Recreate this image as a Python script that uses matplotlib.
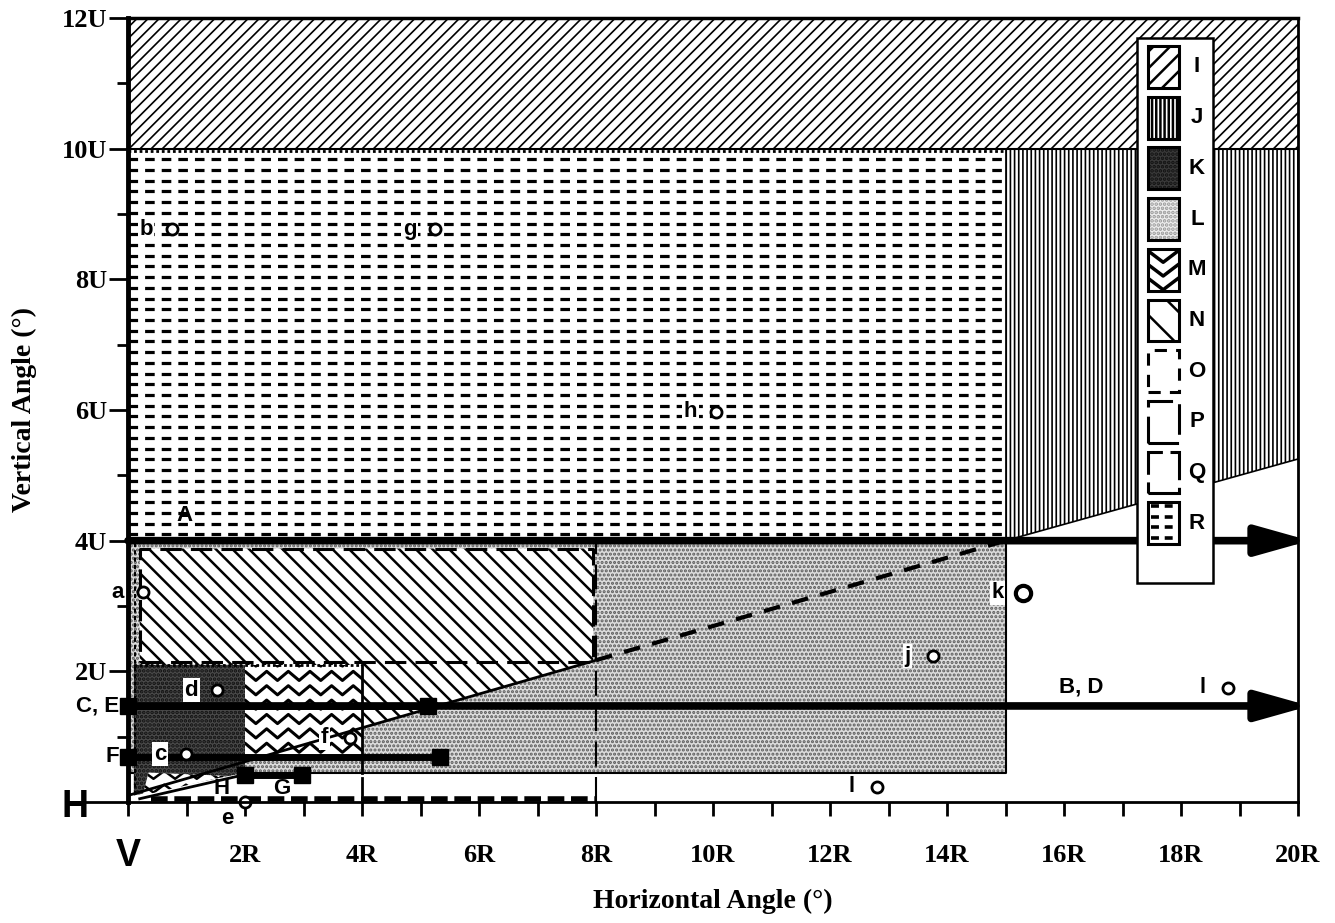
import numpy as np
import matplotlib.pyplot as plt
from matplotlib.patches import Polygon, Rectangle

plt.rcParams['hatch.linewidth'] = 1.5
SANS = 'Liberation Sans'
SERIF = 'Liberation Serif'

# zones, x in R units, y in U units
I_x = [0, 20, 20, 0]
I_y = [10, 10, 12, 12]
J_x = [15, 20, 20, 15]
J_y = [4, 5.25, 10, 10]
R_x = [0, 15, 15, 0]
R_y = [4, 4, 10, 10]
L_x = [0, 15, 15, 0]
L_y = [0.44, 0.44, 4, 4]
N_x = [0.2, 7.95, 7.95, 0.2]
N_y = [3.88, 3.88, 2.17, 0.15]
K_x = [0.1, 2, 2, 0.1]
K_y = [0.1, 0.45, 2.1, 2.1]
M_x = [2, 4, 4, 2]
M_y = [0.72, 0.72, 2.1, 2.1]
Mc_x = [0.25, 1.7, 0.35]
Mc_y = [0.1, 0.4, 0.45]

# diagonal boundary
diag_x = [0, 8, 15]
diag_y = [0.1, 2.17, 4.0]

# arrows and bars
arrow_y = [4.0, 1.47]
arrow_x0 = [0, 0]
arrow_x1 = [20, 20]
bar_x0 = [0, 0, 2.0]
bar_x1 = [5.13, 5.33, 2.97]
bar_y = [1.47, 0.69, 0.42]
H_x = [0.2, 2.0]
H_y = [0.05, 0.42]

# points
pt_lab = ['a', 'b', 'g', 'h', 'k', 'j', 'l', 'l', 'd', 'c', 'f', 'e']
pt_x = [0.26, 0.75, 5.25, 10.05, 15.3, 13.76, 18.8, 12.8, 1.52, 0.99, 3.8, 2.0]
pt_y = [3.21, 8.77, 8.77, 5.97, 3.2, 2.23, 1.75, 0.23, 1.71, 0.73, 0.98, 0.0]

# line labels
ln_lab = ['A', 'B, D', 'G', 'H']
ln_x = [0.97, 16.3, 2.62, 1.6]
ln_y = [4.38, 1.76, 0.2, 0.2]
side_lab = ['C, E', 'F']
side_y = [1.47, 0.69]

legend_lab = ['I', 'J', 'K', 'L', 'M', 'N', 'O', 'P', 'Q', 'R']

xt = list(range(0, 21))
xt_lab = ['' if v == 0 or v % 2 else f'{v}R' for v in xt]
yt = [2, 4, 6, 8, 10, 12]
yt_lab = [f'{v}U' for v in yt]


def dashed_rows(ax, poly, step, z):
    xy = poly.get_xy()
    x0, x1 = xy[:, 0].min(), xy[:, 0].max()
    y0, y1 = xy[:, 1].min(), xy[:, 1].max()
    ys = np.arange(y0 + step * 0.6, y1, step)
    lc = ax.hlines(ys, x0, x1, colors='k', lw=2.3, linestyles=(0, (3.0, 2.2)), zorder=z)
    lc.set_clip_path(poly)


def zigzag_rows(ax, poly, period, amp, step, z, lw=2.2):
    xy = poly.get_xy()
    x0, x1 = xy[:, 0].min(), xy[:, 0].max()
    y0, y1 = xy[:, 1].min(), xy[:, 1].max()
    xs = np.arange(x0 - period, x1 + period, period / 2)
    sgn = np.where(np.arange(len(xs)) % 2 == 0, 1, -1)
    for yc in np.arange(y0 + step / 2, y1 + step, step):
        ln, = ax.plot(xs, yc + amp * sgn, color='k', lw=lw, zorder=z)
        ln.set_clip_path(poly)


def zone(ax, xs, ys, face='white', hatch=None, z=1, hcol='k'):
    p = Polygon(np.column_stack([xs, ys]), closed=True, fc=face, ec='none', lw=0, zorder=z)
    ax.add_patch(p)
    if hatch:
        h = Polygon(np.column_stack([xs, ys]), closed=True, fill=False, ec=hcol,
                    lw=0, hatch=hatch, zorder=z)
        ax.add_patch(h)
    return p


fig = plt.figure(figsize=(13.35, 9.23), dpi=100)
ax = fig.add_axes([0.0959, 0.1311, 0.8764, 0.8494])
ax.set_xlim(0, 20)
ax.set_ylim(0, 12)

# zones
zone(ax, L_x, L_y, face='#dcdcdc', hatch='....', hcol='#5a5a5a', z=1)
ax.plot(L_x + [L_x[0]], L_y + [L_y[0]], color='k', lw=1.5, zorder=1.5)
pR = zone(ax, R_x, R_y, z=1)
dashed_rows(ax, pR, 0.164, 1.2)
ax.plot([0, 15], [9.97, 9.97], color='k', lw=2, ls=(0, (1, 1)), zorder=1.3)
plt.rcParams['hatch.linewidth'] = 1.2
zone(ax, I_x, I_y, hatch='///', z=1)
zone(ax, J_x, J_y, hatch='||||', z=1)
plt.rcParams['hatch.linewidth'] = 1.8
ax.plot([15, 20], [4, 5.25], color='k', lw=1.2, zorder=1.5)
ax.plot([15, 15], [4, 10], color='k', lw=1.2, zorder=1.5)
ax.plot([0, 20], [10, 10], color='k', lw=1.5, zorder=1.5)

zone(ax, N_x, N_y, hatch='\\\\', z=2)
zone(ax, K_x, K_y, face='#4a4a4a', hatch='....', hcol='#111111', z=3)
pM = zone(ax, M_x, M_y, z=3)
zigzag_rows(ax, pM, 0.37, 0.07, 0.22, 3.1)
ax.plot([4, 4], [0.44, 2.1], color='k', lw=2, zorder=3.2)
pMc = zone(ax, Mc_x, Mc_y, z=3)
zigzag_rows(ax, pMc, 0.37, 0.06, 0.21, 3.1, lw=1.8)
ax.plot([0, 4], [2.1, 2.1], color='k', lw=2, ls=(0, (1, 1)), zorder=3.2)

# diagonal boundary
ax.plot(diag_x[:2], diag_y[:2], color='k', lw=2, zorder=3.3)
ax.plot(diag_x[1:], diag_y[1:], color='k', lw=3, ls=(0, (4, 3)), zorder=3.3)

# dashed outlines
ax.plot([0.2, 7.95, 7.95, 0.2, 0.2], [2.15, 2.15, 3.88, 3.88, 2.15],
        color='k', lw=2.2, ls=(0, (7, 3)), zorder=3.4)
ax.plot([0.12, 0.12], [0.1, 4], color='k', lw=1.5, ls=(0, (2, 1.5)), zorder=3.4)
ax.plot([0.4, 8], [0.05, 0.05], color='k', lw=4, ls=(0, (3, 1.2)), zorder=3.4)
ax.plot([8, 8], [0, 4], color='k', lw=1.5, ls=(0, (12, 5)), zorder=3.4)
ax.plot([4, 4], [0.1, 0.36], color='k', lw=2, zorder=3.4)

# arrows
for x0, x1, y in zip(arrow_x0, arrow_x1, arrow_y):
    ax.annotate('', xy=(x1 + 0.2, y), xytext=(x0, y),
                arrowprops=dict(arrowstyle='-|>,head_length=1.6,head_width=0.45',
                                lw=5.5, color='k', mutation_scale=20,
                                shrinkA=0, shrinkB=0), zorder=5, annotation_clip=False)
for x0, x1, y, in zip(bar_x0, bar_x1, bar_y):
    ax.plot([x0, x1], [y, y], color='k', lw=5, marker='s', ms=11, zorder=5,
            solid_capstyle='butt', clip_on=False)
ax.plot(H_x, H_y, color='k', lw=2, zorder=5)

# points and their letters
for lab, x, y in zip(pt_lab, pt_x, pt_y):
    big = lab == 'k'
    ax.plot(x, y, 'o', ms=11 if big else 8, mfc='white', mec='k',
            mew=3 if big else 2, zorder=6, clip_on=False)
    if lab == 'e':
        ax.text(x - 0.3, y - 0.25, lab, ha='center', va='center', fontsize=16,
                fontweight='bold', family=SANS, zorder=6)
    else:
        ax.text(x - 0.44, y, lab, ha='center', va='center', fontsize=16,
                fontweight='bold', family=SANS, zorder=6,
                bbox=dict(fc='white', ec='none', pad=1.2))

for lab, x, y in zip(ln_lab, ln_x, ln_y):
    ax.text(x, y, lab, ha='center', va='center', fontsize=16, fontweight='bold',
            family=SANS, zorder=6)
for lab, y in zip(side_lab, side_y):
    ax.text(-0.15, y, lab, ha='right', va='center', fontsize=16, fontweight='bold',
            family=SANS, clip_on=False)
ax.text(-0.9, -0.08, 'H', ha='center', va='center', fontsize=27, fontweight='bold',
        family=SANS, clip_on=False)
ax.text(0, -0.82, 'V', ha='center', va='center', fontsize=27, fontweight='bold',
        family=SANS, clip_on=False)
ax.plot([-0.8, 0], [0, 0], color='k', lw=2, clip_on=False)

# legend
lx0, lx1, ly0, ly1 = 17.25, 18.55, 3.35, 11.69
ax.add_patch(Rectangle((lx0, ly0), lx1 - lx0, ly1 - ly0, fc='white', ec='k', lw=1.8, zorder=7))
pitch = 0.776
styles = {'O': (0, (4, 3)), 'P': (0, (10, 3)), 'Q': (0, (12, 2.5))}
for i, lab in enumerate(legend_lab):
    cy = 11.25 - pitch * i
    bx, by, bw, bh = 17.43, cy - 0.32, 0.53, 0.64
    ax.text(18.27, cy, lab, ha='center', va='center', fontsize=16, fontweight='bold',
            family=SANS, zorder=8)
    rx = [bx, bx + bw, bx + bw, bx]
    ry = [by, by, by + bh, by + bh]
    if lab == 'I':
        zone(ax, rx, ry, hatch='//', z=7.5)
    elif lab == 'J':
        zone(ax, rx, ry, hatch='||||', z=7.5)
    elif lab == 'K':
        zone(ax, rx, ry, face='#3a3a3a', hatch='....', hcol='#111111', z=7.5)
    elif lab == 'L':
        zone(ax, rx, ry, face='#eeeeee', hatch='....', hcol='#999999', z=7.5)
    elif lab == 'M':
        p = zone(ax, rx, ry, z=7.5)
        zigzag_rows(ax, p, 0.53, 0.09, 0.21, 7.6, lw=2.5)
    elif lab == 'N':
        zone(ax, rx, ry, hatch='\\', z=7.5)
    elif lab == 'R':
        p = zone(ax, rx, ry, z=7.5)
        lc = ax.hlines(np.arange(by + 0.1, by + bh, 0.16), bx + 0.05, bx + bw,
                       colors='k', lw=2.6, linestyles=(0, (2.2, 1.6)), zorder=7.6)
        lc.set_clip_path(p)
    ax.add_patch(Rectangle((bx, by), bw, bh, fill=False, ec='k', lw=2.2,
                           ls=styles.get(lab, '-'), zorder=7.8))

# axes dressing
for s, w in zip(['left', 'bottom', 'top', 'right'], [3.5, 2, 2.5, 2]):
    ax.spines[s].set_linewidth(w)
    ax.spines[s].set_zorder(9)
ax.set_xticks(xt)
ax.set_xticklabels(xt_lab, fontsize=19, fontweight='bold', family=SERIF)
ax.set_yticks(yt)
ax.set_yticklabels(yt_lab, fontsize=19, fontweight='bold', family=SERIF)
ax.set_yticks([1, 3, 5, 7, 9, 11], minor=True)
ax.tick_params(axis='x', length=10, width=2, pad=20)
ax.tick_params(axis='y', which='major', length=14, width=2, pad=1)
ax.tick_params(axis='y', which='minor', length=8, width=2)
ax.set_xlabel('Horizontal Angle (°)', fontsize=20, fontweight='bold', family=SERIF,
              labelpad=16)
ax.set_ylabel('Vertical Angle (°)', fontsize=20, fontweight='bold', family=SERIF,
              labelpad=18)

fig.savefig('out.png', dpi=100)
